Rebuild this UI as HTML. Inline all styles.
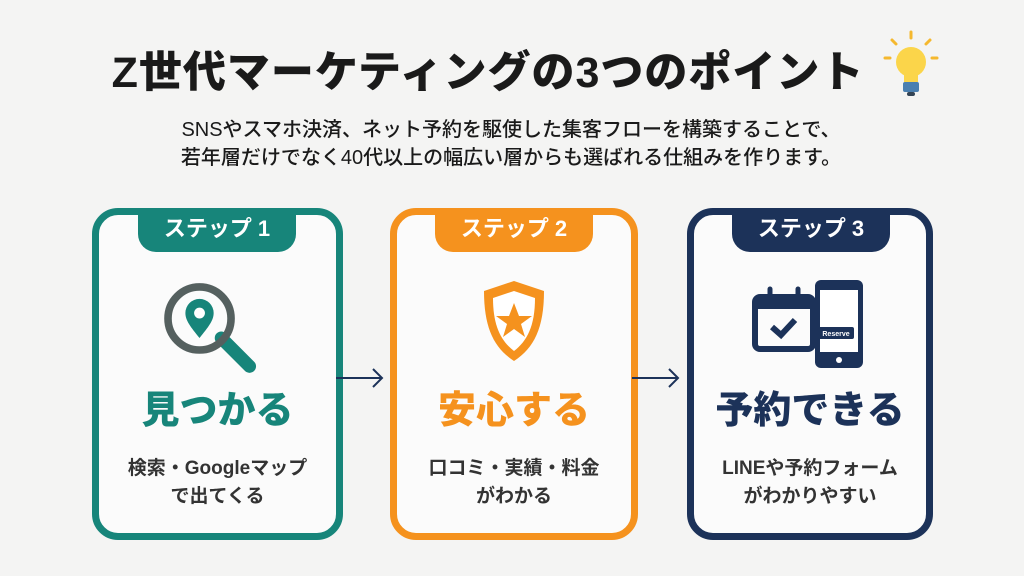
<!DOCTYPE html>
<html><head><meta charset="utf-8"><style>
*{margin:0;padding:0;box-sizing:border-box}
body{width:1024px;height:576px;background:#f4f4f3;font-family:"Liberation Sans","Noto Sans CJK JP",sans-serif;position:relative;overflow:hidden;color:#1a1a1a}
.title{position:absolute;left:0;width:976px;top:38px;text-align:center;font-size:43px;font-weight:900;letter-spacing:1px}
.sub{position:absolute;left:0;width:1022px;top:116px;text-align:center;font-size:20px;line-height:28px;font-weight:500}
.card{position:absolute;top:208px;height:332px;border:7px solid;border-radius:26px;background:#fbfbfb}
.tab{position:absolute;top:-7px;left:40px;width:158px;height:44px;border-radius:0 0 18px 18px;color:#fff;font-size:22px;font-weight:700;text-align:center;line-height:42px}
.head{position:absolute;top:164px;left:0;width:100%;text-align:center;font-size:38px;font-weight:900}
.desc{position:absolute;top:240px;left:0;width:100%;text-align:center;font-size:19px;font-weight:700;line-height:28px;color:#333}
.icon{position:absolute;left:0;width:100%;top:58px;text-align:center}
.arrow{position:absolute;top:366px}
</style></head><body>
<div class="title">Z世代マーケティングの3つのポイント</div>
<svg style="position:absolute;left:880px;top:28px" width="62" height="72" viewBox="0 0 62 72">
<g stroke="#f5b82e" stroke-width="3" stroke-linecap="round"><line x1="31" y1="4" x2="31" y2="10"/><line x1="12" y1="12" x2="16" y2="16"/><line x1="50" y1="12" x2="46" y2="16"/><line x1="5" y1="30" x2="10" y2="30"/><line x1="57" y1="30" x2="52" y2="30"/></g>
<circle cx="31" cy="34" r="15" fill="#fbd54a"/><rect x="24" y="44" width="14" height="10" fill="#fbd54a"/>
<rect x="23" y="54" width="16" height="10" rx="2" fill="#4a7fb0"/><rect x="27" y="64" width="8" height="4" rx="2" fill="#345"/>
</svg>
<div class="sub">SNSやスマホ決済、ネット予約を駆使した集客フローを構築することで、<br>若年層だけでなく40代以上の幅広い層からも選ばれる仕組みを作ります。</div>

<div class="card" style="left:92px;width:251px;border-color:#17857a">
<div class="tab" style="background:#17857a;left:39px">ステップ 1</div>
<div class="icon" style="top:60px"><svg width="120" height="100" viewBox="0 0 110 92">
<line x1="58" y1="58" x2="84" y2="84" stroke="#17857a" stroke-width="12" stroke-linecap="round"/>
<circle cx="38" cy="40" r="29" fill="none" stroke="#55605f" stroke-width="7"/>
<path d="M38 58 C30 48 25 42 25 35 A13 13 0 0 1 51 35 C51 42 46 48 38 58Z" fill="#17857a"/><circle cx="38" cy="35" r="5" fill="#fff"/>
</svg></div>
<div class="head" style="color:#17857a">見つかる</div>
<div class="desc">検索・Googleマップ<br>で出てくる</div>
</div>

<div class="card" style="left:390px;width:248px;border-color:#f5921e">
<div class="tab" style="background:#f5921e;left:38px">ステップ 2</div>
<div class="icon"><svg width="110" height="100" viewBox="0 0 110 100">
<path d="M55 8 L85 18 C85 55 75 75 55 88 C35 75 25 55 25 18Z" fill="#f5921e"/>
<path d="M55 18 L76 25 C76 53 68 68 55 78 C42 68 34 53 34 25Z" fill="#fff"/>
<polygon points="55,30 60,43 73,43 62,51 66,64 55,56 44,64 48,51 37,43 50,43" fill="#f5921e"/>
</svg></div>
<div class="head" style="color:#f5921e">安心する</div>
<div class="desc">口コミ・実績・料金<br>がわかる</div>
</div>

<div class="card" style="left:687px;width:246px;border-color:#1c3259">
<div class="tab" style="background:#1c3259;left:38px">ステップ 3</div>
<div class="icon" style="top:60px"><svg width="120" height="100" viewBox="0 0 120 100">
<rect x="5" y="22" width="58" height="52" rx="5" fill="none" stroke="#1c3259" stroke-width="6"/>
<rect x="5" y="22" width="58" height="12" fill="#1c3259"/>
<line x1="20" y1="14" x2="20" y2="28" stroke="#1c3259" stroke-width="5" stroke-linecap="round"/><line x1="48" y1="14" x2="48" y2="28" stroke="#1c3259" stroke-width="5" stroke-linecap="round"/>
<polyline points="22,52 31,60 45,45" fill="none" stroke="#1c3259" stroke-width="6"/>
<rect x="65" y="5" width="48" height="88" rx="6" fill="#1c3259"/><rect x="70" y="15" width="38" height="62" fill="#fff"/>
<circle cx="89" cy="85" r="3" fill="#fff"/>
<rect x="68" y="52" width="36" height="12" rx="2" fill="#1c3259"/><text x="86" y="61" font-size="7" fill="#fff" text-anchor="middle" font-family="Liberation Sans" font-weight="bold">Reserve</text>
</svg></div>
<div class="head" style="color:#1c3259">予約できる</div>
<div class="desc">LINEや予約フォーム<br>がわかりやすい</div>
</div>

<svg class="arrow" style="left:336px" width="50" height="24"><line x1="0" y1="12" x2="46" y2="12" stroke="#1c3259" stroke-width="2"/><polyline points="37,3 46,12 37,21" fill="none" stroke="#1c3259" stroke-width="2"/></svg>
<svg class="arrow" style="left:632px" width="50" height="24"><line x1="0" y1="12" x2="46" y2="12" stroke="#1c3259" stroke-width="2"/><polyline points="37,3 46,12 37,21" fill="none" stroke="#1c3259" stroke-width="2"/></svg>
</body></html>
